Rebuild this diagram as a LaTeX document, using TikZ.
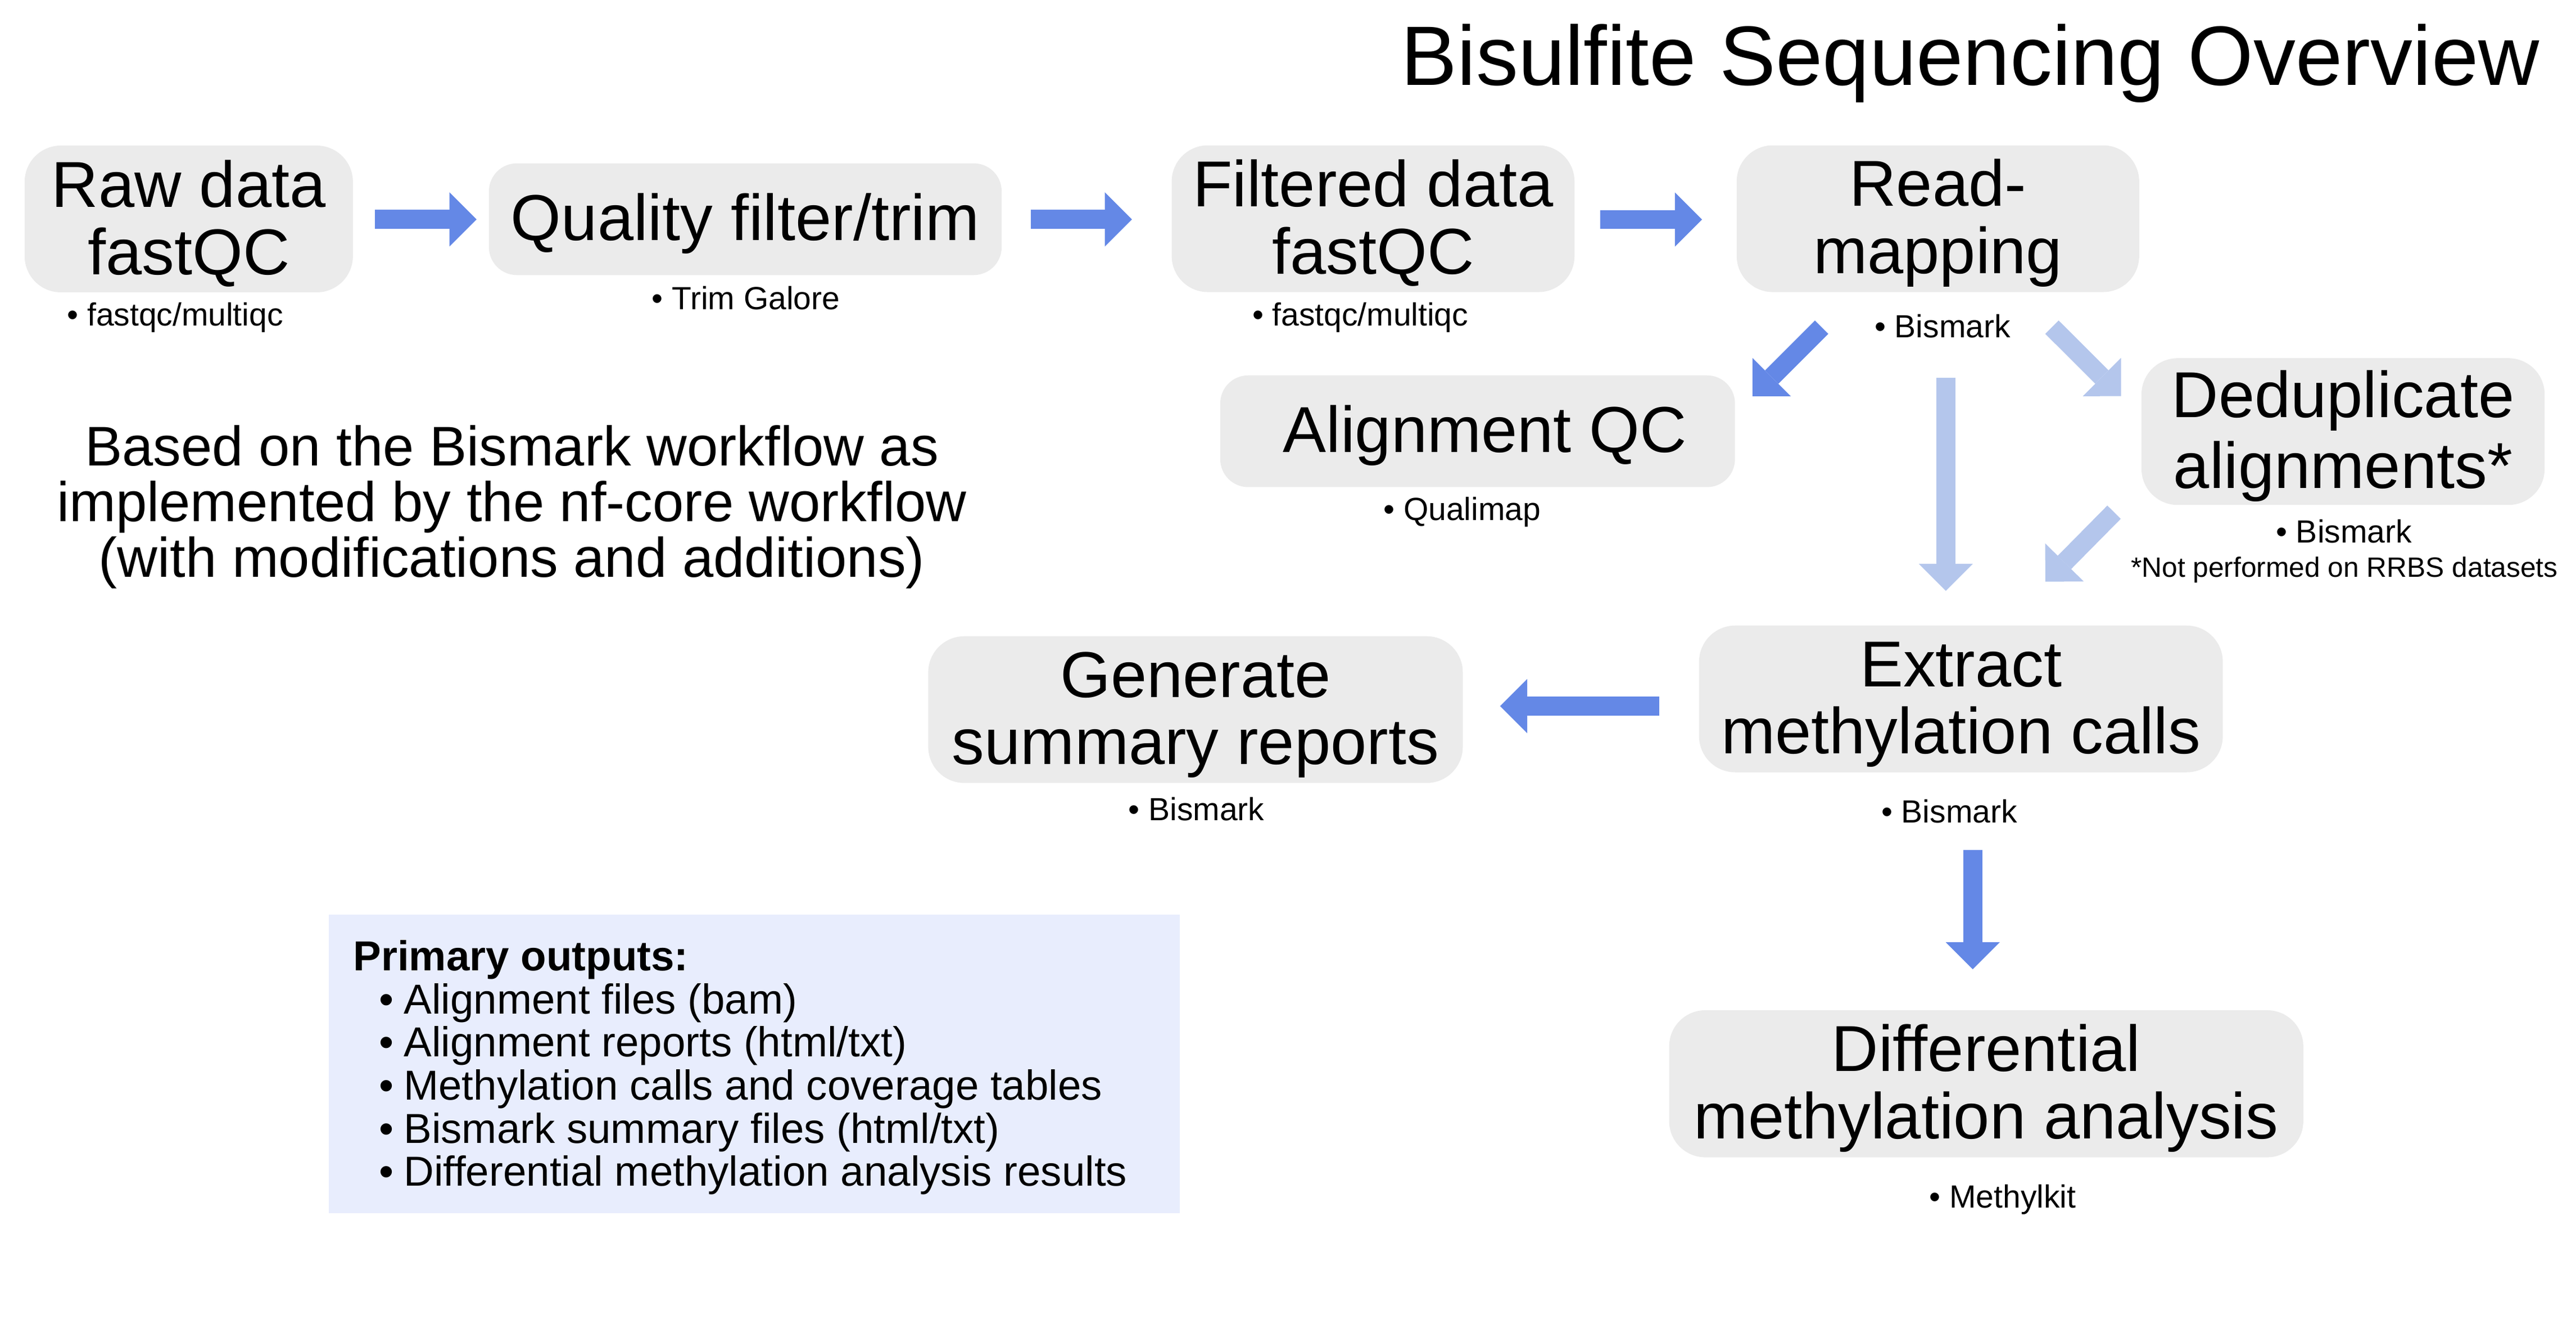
\documentclass[tikz,border=0pt]{standalone}
\usepackage{fontspec}
\setmainfont{Liberation Sans}
\usetikzlibrary{arrows.meta}
\definecolor{boxgray}{HTML}{EBEBEB}
\definecolor{arrdark}{HTML}{6488E6}
\definecolor{arrlight}{HTML}{B4C6EC}
\definecolor{outfill}{HTML}{E8EDFD}
\newcommand\bstrut{\rule[-6pt]{0pt}{40pt}}
\newcommand\pstrut{\rule[-9pt]{0pt}{34pt}}
\newcommand\ostrut{\rule[-6pt]{0pt}{26pt}}
\begin{document}
\begin{tikzpicture}[x=1pt,y=-1pt,
  stepbox/.style={fill=boxgray, draw=none, inner sep=0pt, align=center, font=\fontsize{39.5}{41}\selectfont},
  tallbox/.style={rounded corners=22pt, minimum height=89.3pt},
  shortbox/.style={rounded corners=17pt, minimum height=68pt},
  tool/.style={anchor=base, inner sep=0pt, font=\fontsize{19.5}{22}\selectfont},
  darrow/.style={draw=arrdark, line width=11.5pt, -{Triangle[length=16.5pt,width=33pt,line width=0pt]}},
  larrow/.style={darrow, draw=arrlight},
]
\useasboundingbox (0,0) rectangle (1568,808.47);

% title
\node[anchor=base east, inner sep=0pt, font=\fontsize{51.3}{56}\selectfont] (title) at (1546,51.7) {Bisulfite Sequencing Overview};

% step boxes
\node[stepbox, tallbox, minimum width=199.8pt] (raw) at (114.9,133.25) {\bstrut Raw data\\\bstrut fastQC};
\node[stepbox, shortbox, minimum width=312.1pt] (qual) at (453.65,133.4) {\bstrut Quality filter/trim};
\node[stepbox, tallbox, minimum width=245.2pt] (filt) at (835.8,133.1) {\bstrut Filtered data\\\bstrut fastQC};
\node[stepbox, tallbox, minimum width=245pt] (read) at (1179.6,133.1) {\bstrut Read-\\\bstrut mapping};
\node[stepbox, shortbox, minimum width=313.3pt] (aqc) at (899.4,262.45) {\hspace*{9pt}\bstrut Alignment QC};
\node[stepbox, tallbox, minimum width=245.4pt] (dedup) at (1426.2,262.65) {\bstrut Deduplicate\\\bstrut alignments*};
\node[stepbox, tallbox, minimum width=318.8pt] (extract) at (1193.6,425.35) {\bstrut Extract\\\bstrut methylation calls};
\node[stepbox, tallbox, minimum width=325.4pt] (gen) at (727.7,431.85) {\bstrut Generate\\\bstrut summary reports};
\node[stepbox, tallbox, minimum width=386pt, minimum height=89.5pt] (diff) at (1209,659.55) {\bstrut Differential\\\bstrut methylation analysis};

% tool labels
\node[tool] (rawt) at (106.6,198.4) {• fastqc/multiqc};
\node[tool] (qualt) at (454,188.2) {• Trim Galore};
\node[tool] (filtt) at (828,198.2) {• fastqc/multiqc};
\node[tool] (readt) at (1182.4,205.5) {• Bismark};
\node[tool] (aqct) at (890,316.8) {• Qualimap};
\node[tool] (dedupt) at (1426.7,330.2) {• Bismark};
\node[tool, font=\fontsize{17}{19}\selectfont] (dedupn) at (1427,351.2) {*Not performed on RRBS datasets};
\node[tool] (gent) at (728.3,499.3) {• Bismark};
\node[tool] (extractt) at (1186.5,500.6) {• Bismark};
\node[tool] (difft) at (1219,735) {• Methylkit};

% note
\node[anchor=north, inner sep=0pt, align=center, font=\fontsize{34}{34}\selectfont] (note) at (311.5,258.1)
  {\pstrut Based on the Bismark workflow as\\\pstrut implemented by the nf-core workflow\\\pstrut (with modifications and additions)};

% outputs box
\node[fill=outfill, draw=none, inner sep=0pt, minimum width=517.7pt, minimum height=181.5pt] (outbox) at (459.15,647.45) {};
\node[anchor=north west, inner sep=0pt, align=left, font=\fontsize{25.5}{26.2}\selectfont] (outtext) at (214.8,570.6)
  {\textbf{\ostrut Primary outputs:}\\
   \hspace*{15.7pt}\makebox[15.1pt][l]{•}\ostrut Alignment files (bam)\\
   \hspace*{15.7pt}\makebox[15.1pt][l]{•}\ostrut Alignment reports (html/txt)\\
   \hspace*{15.7pt}\makebox[15.1pt][l]{•}\ostrut Methylation calls and coverage tables\\
   \hspace*{15.7pt}\makebox[15.1pt][l]{•}\ostrut Bismark summary files (html/txt)\\
   \hspace*{15.7pt}\makebox[15.1pt][l]{•}\ostrut Differential methylation analysis results};

% arrow end points
\coordinate (a1s) at (228.3,133.5);  \coordinate (a1e) at (290.1,133.5);
\coordinate (a2s) at (627.3,133.5);  \coordinate (a2e) at (689,133.5);
\coordinate (a3s) at (974.1,133.6);  \coordinate (a3e) at (1036,133.6);
\coordinate (a4s) at (1108.8,199.1); \coordinate (a4e) at (1066.7,241.2);
\coordinate (a5s) at (1184.4,229.8); \coordinate (a5e) at (1184.4,359.6);
\coordinate (a6s) at (1249,199.1);   \coordinate (a6e) at (1291.1,241.1);
\coordinate (a7s) at (1286.8,311.7); \coordinate (a7e) at (1245,354);
\coordinate (a8s) at (1010,429.7);   \coordinate (a8e) at (913.1,429.7);
\coordinate (a9s) at (1200.8,517.3); \coordinate (a9e) at (1200.8,589.9);

% arrows
\draw[darrow] (a1s) -- (a1e);
\draw[darrow] (a2s) -- (a2e);
\draw[darrow] (a3s) -- (a3e);
\draw[darrow] (a4s) -- (a4e);
\draw[larrow] (a5s) -- (a5e);
\draw[larrow] (a6s) -- (a6e);
\draw[larrow] (a7s) -- (a7e);
\draw[darrow] (a8s) -- (a8e);
\draw[darrow] (a9s) -- (a9e);
\end{tikzpicture}
\end{document}
